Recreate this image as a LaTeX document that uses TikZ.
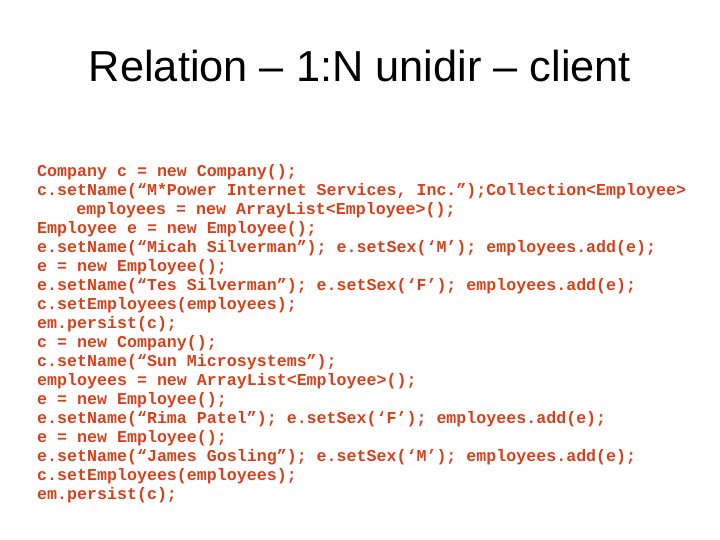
\documentclass[tikz,border=0pt]{standalone}
\usepackage{fontspec}
\setmainfont{Liberation Sans}
\newfontfamily\codefont{Liberation Mono}
\usetikzlibrary{positioning}
\definecolor{codered}{HTML}{D9401A}
\begin{document}
\begin{tikzpicture}[x=0.03cm,y=-0.03cm]
  \tikzset{codeline/.style={anchor=base west,inner sep=0pt,text=codered,font=\codefont\bfseries\fontsize{14.2pt}{16pt}\selectfont},
    title/.style={anchor=base,inner sep=0pt,font=\fontsize{37pt}{42pt}\selectfont}}
  \useasboundingbox (0,0) rectangle (720,540);
  \node [title] (head) at (360,82) {Relation – 1:N unidir – client};
  \foreach \t [count=\i] in {%
    {Company c = new Company();},
    {c.setName(“M*Power Internet Services, Inc.”);Collection<Employee>},
    {\hspace*{2.35em}employees = new ArrayList<Employee>();},
    {Employee e = new Employee();},
    {e.setName(“Micah Silverman”); e.setSex(‘M’); employees.add(e);},
    {e = new Employee();},
    {e.setName(“Tes Silverman”); e.setSex(‘F’); employees.add(e);},
    {c.setEmployees(employees);},
    {em.persist(c);},
    {c = new Company();},
    {c.setName(“Sun Microsystems”);},
    {employees = new ArrayList<Employee>();},
    {e = new Employee();},
    {e.setName(“Rima Patel”); e.setSex(‘F’); employees.add(e);},
    {e = new Employee();},
    {e.setName(“James Gosling”); e.setSex(‘M’); employees.add(e);},
    {c.setEmployees(employees);},
    {em.persist(c);}}
    \node [codeline] (line\i) at (37,{177+18.95*(\i-1)}) {\t};
\end{tikzpicture}
\end{document}
